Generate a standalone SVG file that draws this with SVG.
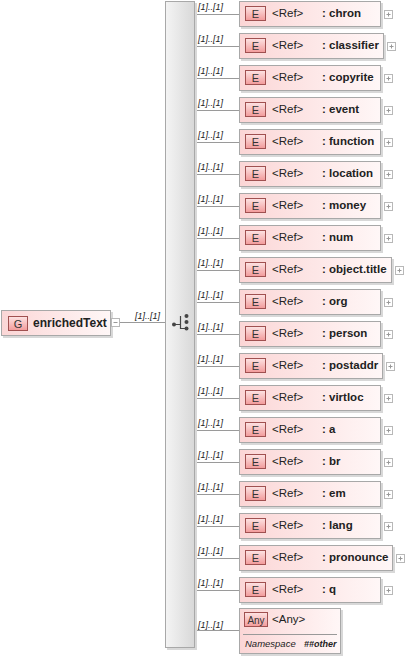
<svg xmlns="http://www.w3.org/2000/svg" width="405" height="659" viewBox="0 0 405 659">
<defs>
<linearGradient id="boxg" x1="0" y1="0" x2="1" y2="0"><stop offset="0" stop-color="#fbd6d6"/><stop offset="1" stop-color="#fff7f7"/></linearGradient>
<linearGradient id="icong" x1="0" y1="0" x2="0" y2="1"><stop offset="0" stop-color="#fde4e4"/><stop offset="1" stop-color="#f29a9a"/></linearGradient>
<linearGradient id="barg" x1="0" y1="0" x2="1" y2="0"><stop offset="0" stop-color="#f4f4f4"/><stop offset="1" stop-color="#d8d8d8"/></linearGradient>
<g id="plus"><rect x="0.5" y="0.5" width="8" height="8" fill="#fff" stroke="#b8b8b8"/><path d="M2.5 4.5h4M4.5 2.5v4" stroke="#999"/></g>
</defs>
<style>
.box{fill:url(#boxg);stroke:#a8a8a8;stroke-width:1}
.shadow{fill:#d8d8d8}
.icon{fill:url(#icong);stroke:#a05050;stroke-width:1}
.ic{font-family:"Liberation Sans",Arial,sans-serif;font-size:11px;fill:#333;text-anchor:middle}
.ref{font-family:"Liberation Sans",Arial,sans-serif;font-size:11.5px;fill:#222}
.nm{font-family:"Liberation Sans",Arial,sans-serif;font-size:11.5px;font-weight:bold;fill:#222}
.card{font-family:"Liberation Sans",Arial,sans-serif;font-size:9px;font-style:italic;fill:#222}
.ln{stroke:#9a9a9a;stroke-width:1;fill:none}
</style>
<g id="connectors">
<path class="ln" d="M120 322.5H165"/>
<path class="ln" d="M195 14.5H239M195 46.5H239M195 78.5H239M195 110.5H239M195 142.5H239M195 174.5H239M195 206.5H239M195 238.5H239M195 270.5H239M195 302.5H239M195 334.5H239M195 366.5H239M195 398.5H239M195 430.5H239M195 462.5H239M195 494.5H239M195 526.5H239M195 558.5H239M195 590.5H239M195 630.5H239"/>
<text class="card" x="135" y="319">[1]..[1]</text>
</g>
<g id="enrichedText">
<rect class="shadow" x="3" y="312" width="110" height="26"/>
<rect class="box" x="1.5" y="310.5" width="109" height="25"/>
<rect class="icon" x="8.5" y="316.5" width="19" height="14"/>
<text class="ic" x="18" y="327.5">G</text>
<text class="nm" x="33" y="327" style="font-size:12px">enrichedText</text>
<rect x="111.5" y="318.5" width="8" height="8" fill="#fff" stroke="#b8b8b8"/><path d="M113.5 322.5h4" stroke="#999"/>
</g>
<g id="sequence">
<rect class="shadow" x="167" y="3" width="30" height="647"/>
<rect x="165.5" y="1.5" width="29" height="646" fill="url(#barg)" stroke="#a8a8a8"/>
<path d="M174 324.5H180.5M180.5 316V328.5H186" stroke="#444" stroke-width="1.2" fill="none"/>
<circle cx="174" cy="324.5" r="2" fill="#444"/>
<circle cx="186.5" cy="316" r="2" fill="#444"/><circle cx="186.5" cy="322" r="2" fill="#444"/><circle cx="186.5" cy="328.5" r="2" fill="#444"/>
</g>
<g id="chron"><text class="card" x="198" y="10">[1]..[1]</text><rect class="shadow" x="241" y="3" width="142" height="26"/><rect class="box" x="239.5" y="1.5" width="141" height="25"/><rect class="icon" x="245.5" y="6.5" width="20" height="14"/><text class="ic" x="255.5" y="17.5">E</text><text class="ref" x="272" y="17">&lt;Ref&gt;</text><text class="nm" x="322" y="17">: chron</text><use href="#plus" x="384" y="10"/></g>
<g id="classifier"><text class="card" x="198" y="42">[1]..[1]</text><rect class="shadow" x="241" y="35" width="145" height="26"/><rect class="box" x="239.5" y="33.5" width="144" height="25"/><rect class="icon" x="245.5" y="38.5" width="20" height="14"/><text class="ic" x="255.5" y="49.5">E</text><text class="ref" x="272" y="49">&lt;Ref&gt;</text><text class="nm" x="322" y="49">: classifier</text><use href="#plus" x="387" y="42"/></g>
<g id="copyrite"><text class="card" x="198" y="74">[1]..[1]</text><rect class="shadow" x="241" y="67" width="142" height="26"/><rect class="box" x="239.5" y="65.5" width="141" height="25"/><rect class="icon" x="245.5" y="70.5" width="20" height="14"/><text class="ic" x="255.5" y="81.5">E</text><text class="ref" x="272" y="81">&lt;Ref&gt;</text><text class="nm" x="322" y="81">: copyrite</text><use href="#plus" x="384" y="74"/></g>
<g id="event"><text class="card" x="198" y="106">[1]..[1]</text><rect class="shadow" x="241" y="99" width="142" height="26"/><rect class="box" x="239.5" y="97.5" width="141" height="25"/><rect class="icon" x="245.5" y="102.5" width="20" height="14"/><text class="ic" x="255.5" y="113.5">E</text><text class="ref" x="272" y="113">&lt;Ref&gt;</text><text class="nm" x="322" y="113">: event</text><use href="#plus" x="384" y="106"/></g>
<g id="function"><text class="card" x="198" y="138">[1]..[1]</text><rect class="shadow" x="241" y="131" width="142" height="26"/><rect class="box" x="239.5" y="129.5" width="141" height="25"/><rect class="icon" x="245.5" y="134.5" width="20" height="14"/><text class="ic" x="255.5" y="145.5">E</text><text class="ref" x="272" y="145">&lt;Ref&gt;</text><text class="nm" x="322" y="145">: function</text><use href="#plus" x="384" y="138"/></g>
<g id="location"><text class="card" x="198" y="170">[1]..[1]</text><rect class="shadow" x="241" y="163" width="142" height="26"/><rect class="box" x="239.5" y="161.5" width="141" height="25"/><rect class="icon" x="245.5" y="166.5" width="20" height="14"/><text class="ic" x="255.5" y="177.5">E</text><text class="ref" x="272" y="177">&lt;Ref&gt;</text><text class="nm" x="322" y="177">: location</text><use href="#plus" x="384" y="170"/></g>
<g id="money"><text class="card" x="198" y="202">[1]..[1]</text><rect class="shadow" x="241" y="195" width="142" height="26"/><rect class="box" x="239.5" y="193.5" width="141" height="25"/><rect class="icon" x="245.5" y="198.5" width="20" height="14"/><text class="ic" x="255.5" y="209.5">E</text><text class="ref" x="272" y="209">&lt;Ref&gt;</text><text class="nm" x="322" y="209">: money</text><use href="#plus" x="384" y="202"/></g>
<g id="num"><text class="card" x="198" y="234">[1]..[1]</text><rect class="shadow" x="241" y="227" width="142" height="26"/><rect class="box" x="239.5" y="225.5" width="141" height="25"/><rect class="icon" x="245.5" y="230.5" width="20" height="14"/><text class="ic" x="255.5" y="241.5">E</text><text class="ref" x="272" y="241">&lt;Ref&gt;</text><text class="nm" x="322" y="241">: num</text><use href="#plus" x="384" y="234"/></g>
<g id="object.title"><text class="card" x="198" y="266">[1]..[1]</text><rect class="shadow" x="241" y="259" width="153" height="26"/><rect class="box" x="239.5" y="257.5" width="152" height="25"/><rect class="icon" x="245.5" y="262.5" width="20" height="14"/><text class="ic" x="255.5" y="273.5">E</text><text class="ref" x="272" y="273">&lt;Ref&gt;</text><text class="nm" x="322" y="273">: object.title</text><use href="#plus" x="395" y="266"/></g>
<g id="org"><text class="card" x="198" y="298">[1]..[1]</text><rect class="shadow" x="241" y="291" width="142" height="26"/><rect class="box" x="239.5" y="289.5" width="141" height="25"/><rect class="icon" x="245.5" y="294.5" width="20" height="14"/><text class="ic" x="255.5" y="305.5">E</text><text class="ref" x="272" y="305">&lt;Ref&gt;</text><text class="nm" x="322" y="305">: org</text><use href="#plus" x="384" y="298"/></g>
<g id="person"><text class="card" x="198" y="330">[1]..[1]</text><rect class="shadow" x="241" y="323" width="142" height="26"/><rect class="box" x="239.5" y="321.5" width="141" height="25"/><rect class="icon" x="245.5" y="326.5" width="20" height="14"/><text class="ic" x="255.5" y="337.5">E</text><text class="ref" x="272" y="337">&lt;Ref&gt;</text><text class="nm" x="322" y="337">: person</text><use href="#plus" x="384" y="330"/></g>
<g id="postaddr"><text class="card" x="198" y="362">[1]..[1]</text><rect class="shadow" x="241" y="355" width="144" height="26"/><rect class="box" x="239.5" y="353.5" width="143" height="25"/><rect class="icon" x="245.5" y="358.5" width="20" height="14"/><text class="ic" x="255.5" y="369.5">E</text><text class="ref" x="272" y="369">&lt;Ref&gt;</text><text class="nm" x="322" y="369">: postaddr</text><use href="#plus" x="386" y="362"/></g>
<g id="virtloc"><text class="card" x="198" y="394">[1]..[1]</text><rect class="shadow" x="241" y="387" width="142" height="26"/><rect class="box" x="239.5" y="385.5" width="141" height="25"/><rect class="icon" x="245.5" y="390.5" width="20" height="14"/><text class="ic" x="255.5" y="401.5">E</text><text class="ref" x="272" y="401">&lt;Ref&gt;</text><text class="nm" x="322" y="401">: virtloc</text><use href="#plus" x="384" y="394"/></g>
<g id="a"><text class="card" x="198" y="426">[1]..[1]</text><rect class="shadow" x="241" y="419" width="142" height="26"/><rect class="box" x="239.5" y="417.5" width="141" height="25"/><rect class="icon" x="245.5" y="422.5" width="20" height="14"/><text class="ic" x="255.5" y="433.5">E</text><text class="ref" x="272" y="433">&lt;Ref&gt;</text><text class="nm" x="322" y="433">: a</text><use href="#plus" x="384" y="426"/></g>
<g id="br"><text class="card" x="198" y="458">[1]..[1]</text><rect class="shadow" x="241" y="451" width="142" height="26"/><rect class="box" x="239.5" y="449.5" width="141" height="25"/><rect class="icon" x="245.5" y="454.5" width="20" height="14"/><text class="ic" x="255.5" y="465.5">E</text><text class="ref" x="272" y="465">&lt;Ref&gt;</text><text class="nm" x="322" y="465">: br</text><use href="#plus" x="384" y="458"/></g>
<g id="em"><text class="card" x="198" y="490">[1]..[1]</text><rect class="shadow" x="241" y="483" width="142" height="26"/><rect class="box" x="239.5" y="481.5" width="141" height="25"/><rect class="icon" x="245.5" y="486.5" width="20" height="14"/><text class="ic" x="255.5" y="497.5">E</text><text class="ref" x="272" y="497">&lt;Ref&gt;</text><text class="nm" x="322" y="497">: em</text><use href="#plus" x="384" y="490"/></g>
<g id="lang"><text class="card" x="198" y="522">[1]..[1]</text><rect class="shadow" x="241" y="515" width="142" height="26"/><rect class="box" x="239.5" y="513.5" width="141" height="25"/><rect class="icon" x="245.5" y="518.5" width="20" height="14"/><text class="ic" x="255.5" y="529.5">E</text><text class="ref" x="272" y="529">&lt;Ref&gt;</text><text class="nm" x="322" y="529">: lang</text><use href="#plus" x="384" y="522"/></g>
<g id="pronounce"><text class="card" x="198" y="554">[1]..[1]</text><rect class="shadow" x="241" y="547" width="154" height="26"/><rect class="box" x="239.5" y="545.5" width="153" height="25"/><rect class="icon" x="245.5" y="550.5" width="20" height="14"/><text class="ic" x="255.5" y="561.5">E</text><text class="ref" x="272" y="561">&lt;Ref&gt;</text><text class="nm" x="322" y="561">: pronounce</text><use href="#plus" x="396" y="554"/></g>
<g id="q"><text class="card" x="198" y="586">[1]..[1]</text><rect class="shadow" x="241" y="579" width="142" height="26"/><rect class="box" x="239.5" y="577.5" width="141" height="25"/><rect class="icon" x="245.5" y="582.5" width="20" height="14"/><text class="ic" x="255.5" y="593.5">E</text><text class="ref" x="272" y="593">&lt;Ref&gt;</text><text class="nm" x="322" y="593">: q</text><use href="#plus" x="384" y="586"/></g>
<g id="any"><text class="card" x="198" y="628">[1]..[1]</text><rect class="shadow" x="241" y="610" width="102" height="46"/><rect class="box" x="239.5" y="608.5" width="101" height="45"/><rect class="icon" x="244.5" y="612.5" width="23" height="14"/><text class="ic" x="256" y="623.5" style="font-size:10px">Any</text><text class="nm" x="272" y="623" style="font-weight:normal">&lt;Any&gt;</text><path d="M243 634.5H337" stroke="#999"/><text class="card" x="245" y="647" style="font-size:9.5px">Namespace</text><text class="card" x="304" y="647" style="font-size:9px;font-weight:bold">##other</text></g>
</svg>
